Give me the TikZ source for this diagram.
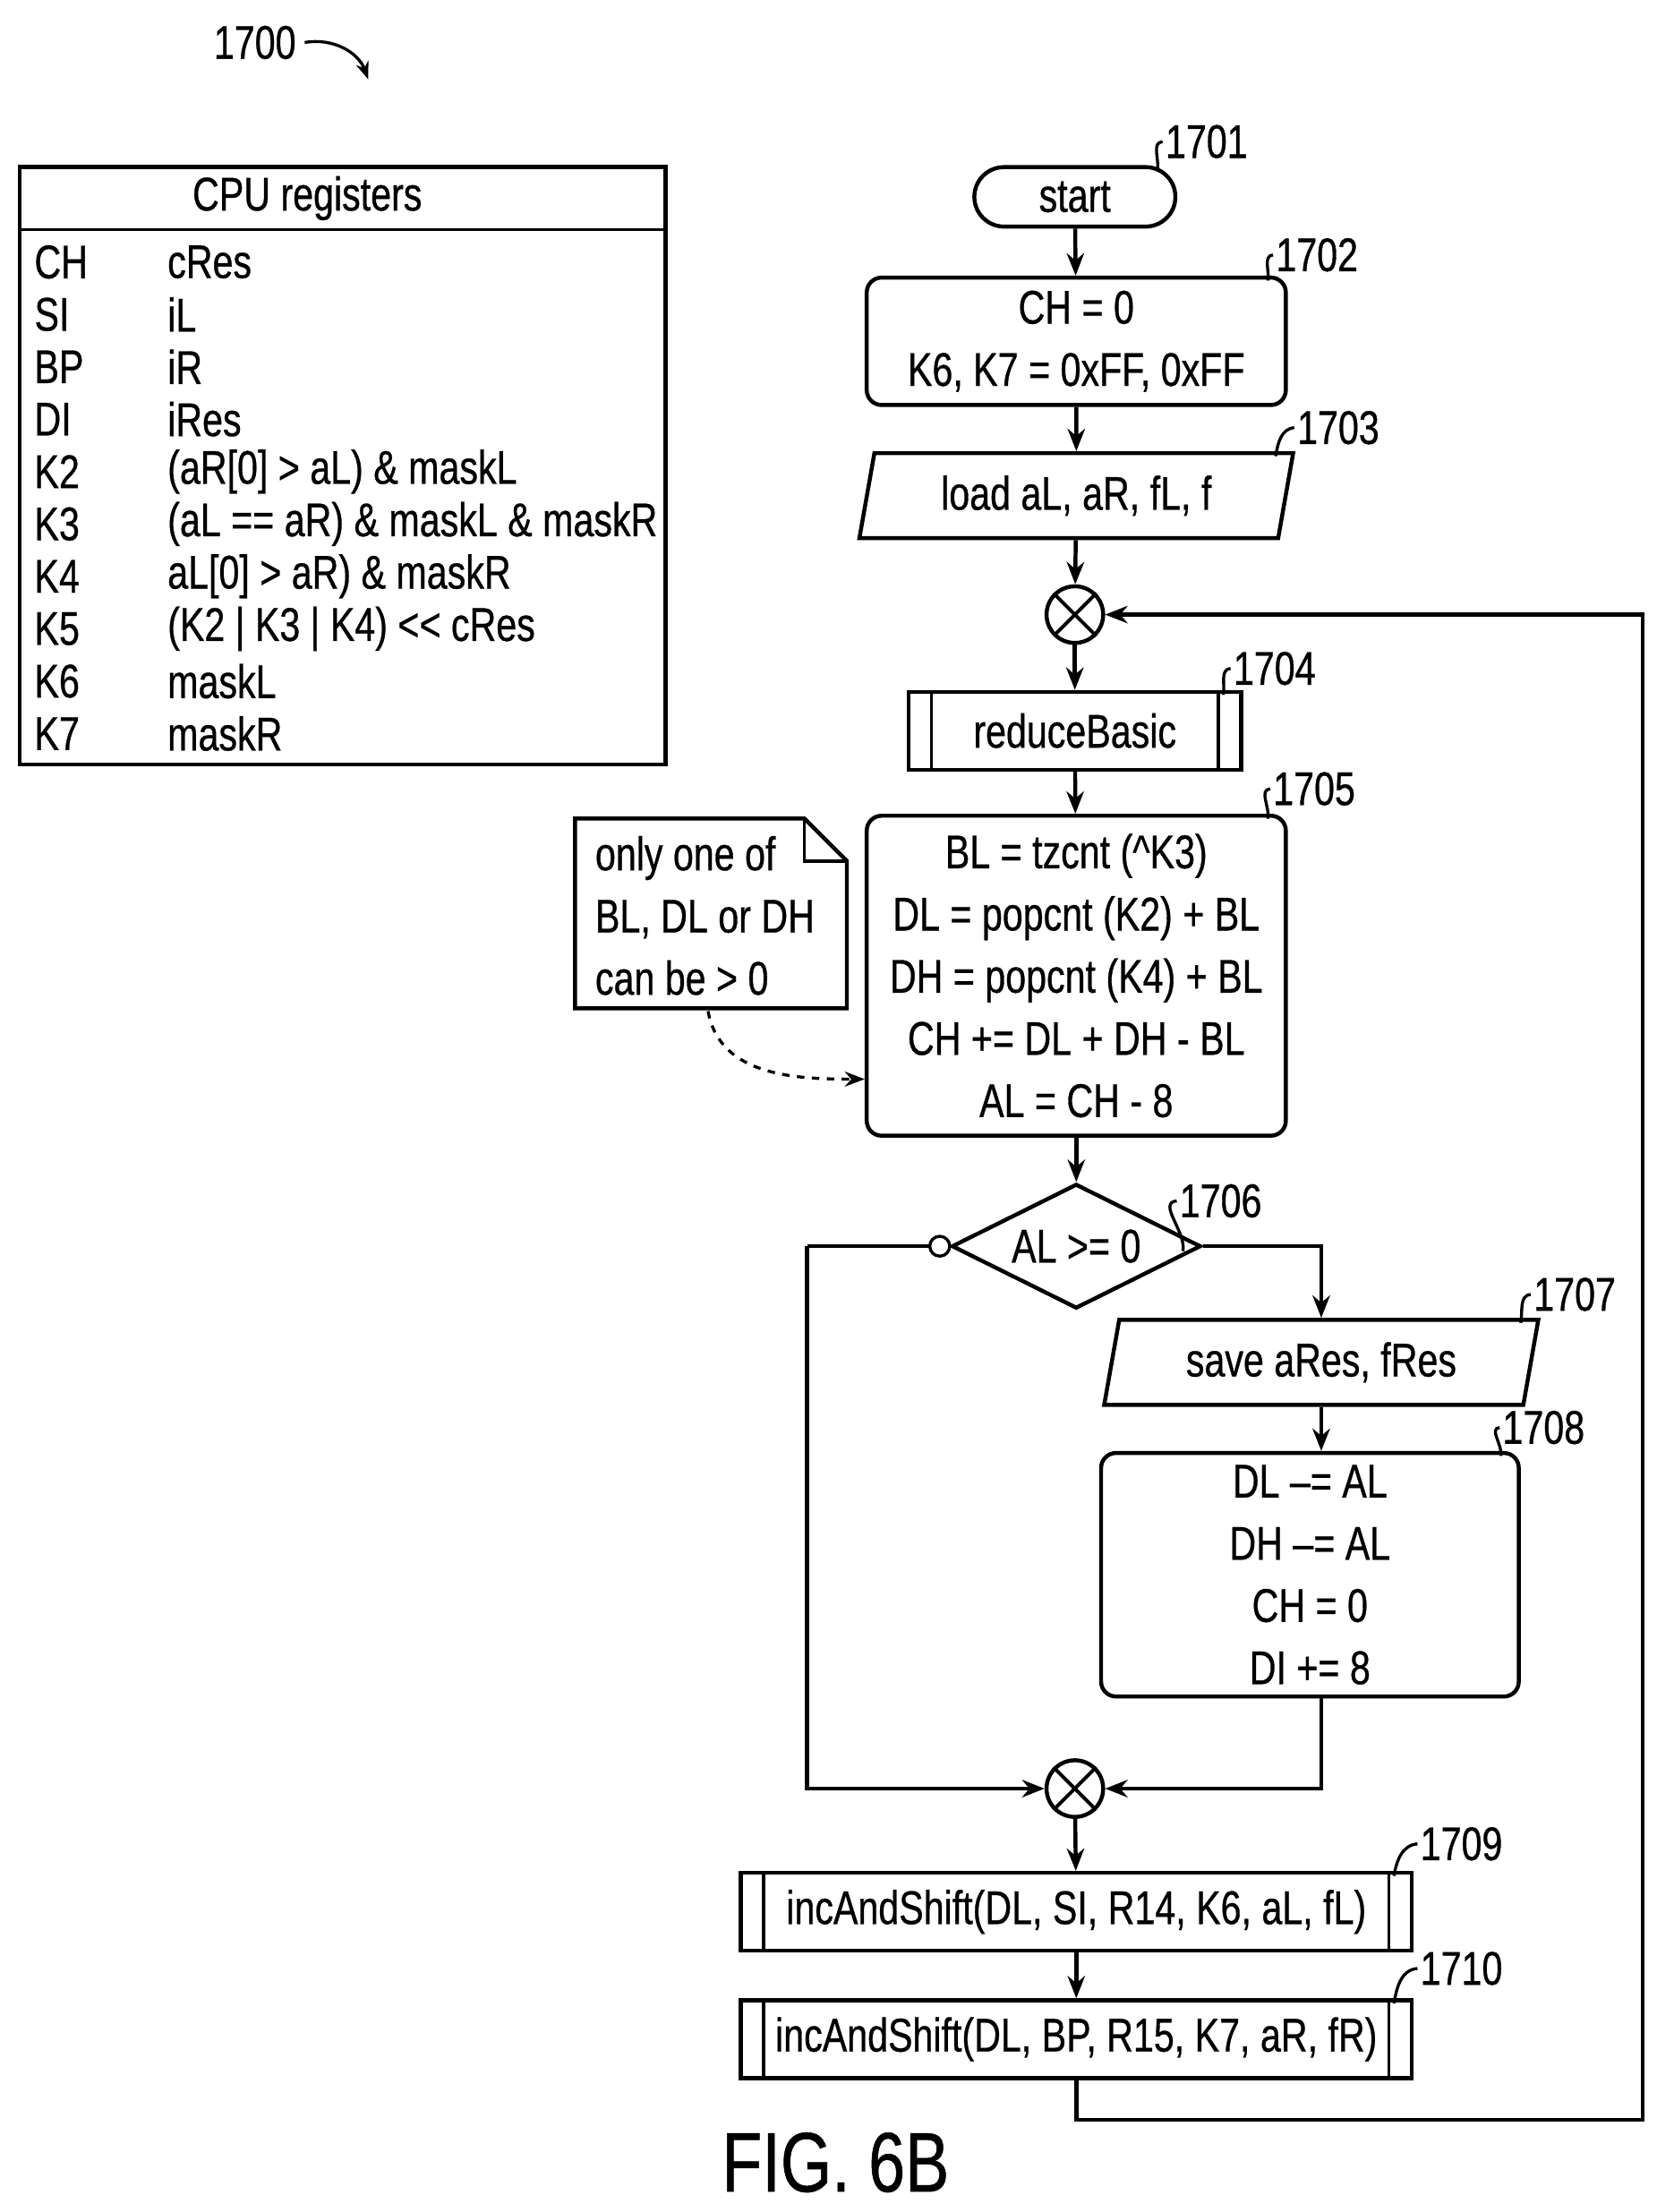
\documentclass[tikz,border=0pt]{standalone}
\usepackage{fontspec}
\setmainfont{Liberation Sans}[FakeStretch=0.78, FakeBold=0.6]
\usetikzlibrary{shapes.geometric,arrows.meta,positioning}

\tikzset{
  box/.style={draw, line width=1.6pt, rounded corners=6pt, align=center},
  io/.style={draw, line width=1.6pt, trapezium, trapezium left angle=80, trapezium right angle=100, minimum height=1.2cm, inner xsep=0pt},
  sub/.style={draw, line width=1.6pt, minimum height=1.1cm},
  sumj/.style={draw, line width=1.6pt, circle, minimum size=0.8cm, inner sep=0pt},
  tag/.style={font=\fontsize{19}{22}\selectfont},
  lead/.style={line width=1.2pt},
  flow/.style={line width=1.6pt, -{Stealth[length=9pt,width=7pt]}},
  conn/.style={line width=1.6pt}
}

\begin{document}
\begin{tikzpicture}[x=0.02cm, y=-0.02cm, font=\fontsize{19}{25}\selectfont]
  \useasboundingbox (0,0) rectangle (1170,1562);

  % figure number
  \node[tag] (n1700) at (180,30) {1700};
  \draw[lead, -{Stealth[length=7pt]}] (n1700.east) to[out=10, in=110] (260,56);

  % register table
  \draw[line width=1.6pt] (14,118) rectangle (470,540);
  \draw[line width=1.2pt] (14,162) -- (470,162);
  \node (thead) at (217,140) {CPU registers};
  \foreach \i/\r/\v in {0/CH/cRes, 1/SI/iL, 2/BP/iR, 3/DI/iRes,
      4/K2/{(aR[0] > aL) \& maskL}, 5/K3/{(aL == aR) \& maskL \& maskR},
      6/K4/{aL[0] > aR) \& maskR}, 7/K5/{(K2 | K3 | K4) {<}\kern0pt{<} cRes},
      8/K6/maskL, 9/K7/maskR}{
    \node[anchor=west, inner sep=0pt] (reg\i) at (24,185+37*\i) {\r};
    \node[anchor=west, inner sep=0pt] (val\i) at (118,185+37*\i) {\v};
  }

  % flowchart
  \node[box, rounded corners=0.42cm, minimum width=2.84cm, minimum height=0.84cm] (start) at (759,139) {start};
  \node[box, minimum width=5.92cm, minimum height=1.8cm] (init) at (760,241) {CH = 0\\K6, K7 = 0xFF, 0xFF};
  \node[io, minimum width=5.4cm] (load) at (760,350) {load aL, aR, fL, f};
  \node[sumj] (joinA) at (759,434) {};
  \node[sub, minimum width=4.7cm] (reduce) at (759,516) {reduceBasic};
  \node[box, minimum width=5.92cm, minimum height=4.52cm] (count) at (760,689)
    {BL = tzcnt (\^{}K3)\\DL = popcnt (K2) + BL\\DH = popcnt (K4) + BL\\CH += DL + DH - BL\\AL = CH - 8};
  \node[draw, line width=1.6pt, diamond, aspect=2, minimum width=3.52cm, minimum height=1.76cm, inner sep=0pt] (test) at (760,880) {AL >= 0};
  \node[io, minimum width=4.4cm] (save) at (933,962) {save aRes, fRes};
  \node[box, minimum width=5.9cm, minimum height=3.44cm] (reset) at (925,1112) {DL --= AL\\DH --= AL\\CH = 0\\DI += 8};
  \node[sumj] (joinB) at (759,1263) {};
  \node[sub, minimum width=9.48cm] (shiftL) at (760,1350) {incAndShift(DL, SI, R14, K6, aL, fL)};
  \node[sub, minimum width=9.48cm] (shiftR) at (760,1440) {incAndShift(DL, BP, R15, K7, aR, fR)};
  \node[font=\fontsize{34}{36}\selectfont] (figlbl) at (590,1527) {FIG. 6B};

  % note
  \draw[line width=1.6pt] (406,578) -- (568,578) -- (598,608) -- (598,712) -- (406,712) -- cycle;
  \draw[line width=1.2pt] (568,578) -- (568,608) -- (598,608);
  \node[anchor=north west, align=left, inner sep=0pt] (note) at (420,590) {only one of\\BL, DL or DH\\can be > 0};
  \coordinate (notefoot) at (500,714);
  \draw[line width=1.2pt, dashed, -{Stealth[length=8pt]}] (notefoot) to[out=-80, in=180] (count.west |- 0,762);

  % sub-routine inner bars
  \foreach \s in {reduce, shiftL, shiftR}{
    \draw[line width=1.2pt] ([xshift=10pt]\s.north west) -- ([xshift=10pt]\s.south west);
    \draw[line width=1.2pt] ([xshift=-10pt]\s.north east) -- ([xshift=-10pt]\s.south east);
  }
  % junction crosses
  \foreach \j in {joinA, joinB}{
    \draw[line width=1.4pt] (\j.north west) -- (\j.south east);
    \draw[line width=1.4pt] (\j.north east) -- (\j.south west);
  }

  % connectors
  \draw[flow] (start) -- (init);
  \draw[flow] (init) -- (load);
  \draw[flow] (load) -- (joinA);
  \draw[flow] (joinA) -- (reduce);
  \draw[flow] (reduce) -- (count);
  \draw[flow] (count) -- (test);
  \draw[flow] (test.east) -| (save.north -| 933,0);
  \draw[flow] (save.south -| 933,0) -- (reset.north -| 933,0);
  \draw[flow] (reset.south -| 933,0) |- (joinB.east);
  \draw[conn] ([xshift=-4pt]test.west) -- (570,880) coordinate (turnL);
  \draw[flow] (turnL) |- (joinB.west);
  \draw[line width=1.2pt, fill=white] ([xshift=-4pt]test.west) circle (4pt);
  \draw[flow] (joinB) -- (shiftL);
  \draw[flow] (shiftL) -- (shiftR);
  \coordinate (back) at (1160,1497);
  \draw[flow] (shiftR.south) |- (back) |- (joinA.east);

  % reference numerals
  \foreach \t/\p/\c in {1701/{852,100}/start.north east, 1702/{930,180}/init.north east,
      1703/{945,302}/load.top right corner, 1704/{900,472}/reduce.north east,
      1705/{928,557}/count.north east, 1706/{862,848}/{test.east},
      1707/{1112,914}/save.top right corner, 1708/{1090,1008}/reset.north east,
      1709/{1032,1302}/shiftL.north east, 1710/{1032,1390}/shiftR.north east}{
    \node[tag, inner sep=1pt] (n\t) at (\p) {\t};
    \draw[lead] (n\t.west) to[out=185, in=80] ([xshift=-8pt,yshift=-2pt]\c);
  }
\end{tikzpicture}
\end{document}
